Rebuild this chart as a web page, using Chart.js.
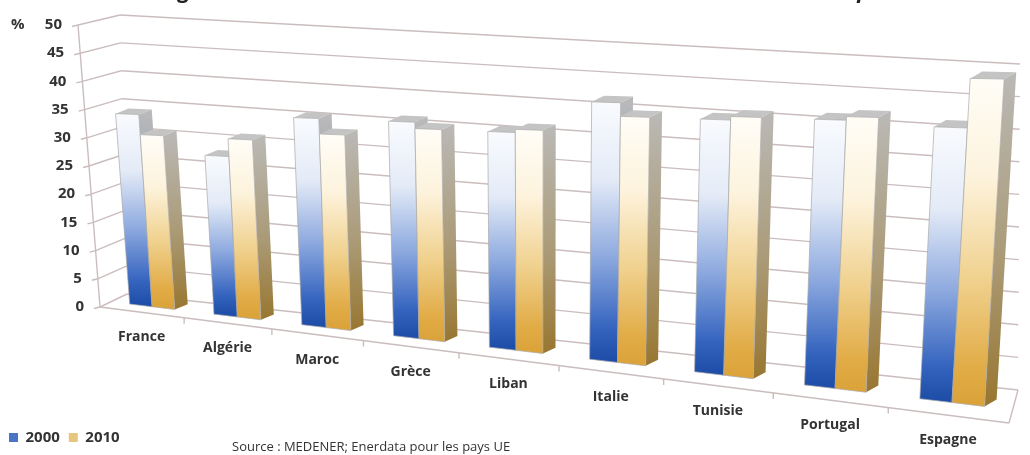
<!DOCTYPE html>
<html>
<head>
<meta charset="utf-8">
<script src="https://cdn.jsdelivr.net/npm/chart.js@4.4.0/dist/chart.umd.min.js"></script>
<style>
  html, body { margin: 0; padding: 0; background: #fff; }
  canvas { display: block; }
</style>
</head>
<body>
<canvas id="chart" width="1030" height="455"></canvas>
<script>
// data
const countries = ['France', 'Algérie', 'Maroc', 'Grèce', 'Liban', 'Italie', 'Tunisie', 'Portugal', 'Espagne'];
const values2000 = [33.5, 27, 34, 34, 33, 38, 36, 36.5, 36];
const values2010 = [30, 30, 31.5, 33, 33.5, 36, 36.5, 37, 42.5];
const valueTicks = [0, 5, 10, 15, 20, 25, 30, 35, 40, 45, 50];

// 3d box: front / back corners of the floor and the vertical step per unit
const FL0 = [100, 307], FR0 = [1009, 423];
const BL0 = [127, 294], BR0 = [1018, 390];
const FLV = [-0.44, -5.64], FRV = [0.49, -7.77];
const BLV = [-0.14, -5.58], BRV = [0.04, -6.52];
const barDepth = 0.4; // bars stand this far back on the floor
const gridColor = '#cbbdbd';
const textColor = '#333';
const font = '"Open Sans", "DejaVu Sans", sans-serif';

function lerp(a, b, t) { return a + (b - a) * t; }
function mix(p, q, t) { return [lerp(p[0], q[0], t), lerp(p[1], q[1], t)]; }
function add(p, q) { return [p[0] + q[0], p[1] + q[1]]; }

// position along the category axis (0..1) -> position along the receding floor edge
function warp(f) {
  const u = 9 * f;
  const x = (80.37 * u + 100) / (1 - 0.02045 * u);
  return (x - 100) / 909;
}

function wallPt(t, d, v) {
  const b = mix(mix(FL0, FR0, t), mix(BL0, BR0, t), d);
  const s = mix(mix(FLV, FRV, t), mix(BLV, BRV, t), d);
  return [b[0] + v * s[0], b[1] + v * s[1]];
}

function barPt(t, v) {
  const b = wallPt(t, barDepth, 0);
  const s = mix(FLV, FRV, t);
  return [b[0] + v * s[0], b[1] + v * s[1]];
}

function line(ctx, a, b) {
  ctx.beginPath();
  ctx.moveTo(a[0], a[1]);
  ctx.lineTo(b[0], b[1]);
  ctx.stroke();
}

function poly(ctx, pts, fill) {
  ctx.beginPath();
  ctx.moveTo(pts[0][0], pts[0][1]);
  for (let i = 1; i < pts.length; i++) ctx.lineTo(pts[i][0], pts[i][1]);
  ctx.closePath();
  ctx.fillStyle = fill;
  ctx.fill();
}

function grad(ctx, y0, y1, stops) {
  const g = ctx.createLinearGradient(0, y0, 0, y1);
  stops.forEach(s => g.addColorStop(s[0], s[1]));
  return g;
}

const styles = [
  {
    front: [[0, '#f9fbfe'], [0.3, '#e4ebf7'], [0.6, '#8eaadf'], [0.88, '#3564bf'], [1, '#1f4ea9']],
    side: [[0, '#b9b9bb'], [0.6, '#8791a8'], [1, '#34497c']]
  },
  {
    front: [[0, '#fffdf7'], [0.3, '#fdf3dd'], [0.62, '#f0d18e'], [0.9, '#e1ab45'], [1, '#dba33a']],
    side: [[0, '#bab8b4'], [0.55, '#aa9a76'], [1, '#987630']]
  }
];

function drawBar(ctx, tl, tr, v, st) {
  const a = barPt(tl, 0), b = barPt(tr, 0), c = barPt(tr, v), d = barPt(tl, v);
  const dep = mix([13, -5], [12, -7], (tl + tr) / 2);
  poly(ctx, [b, c, add(c, dep), add(b, dep)], grad(ctx, c[1], b[1], st.side));
  poly(ctx, [d, c, add(c, dep), add(d, dep)], '#c4c4c4');
  poly(ctx, [a, b, c, d], grad(ctx, d[1], a[1], st.front));
  ctx.strokeStyle = 'rgba(170,170,170,0.7)';
  ctx.lineWidth = 1;
  ctx.beginPath();
  [a, b, c, d].forEach((p, i) => i ? ctx.lineTo(p[0], p[1]) : ctx.moveTo(p[0], p[1]));
  ctx.closePath();
  ctx.stroke();
}

const perspective = {
  id: 'perspective',
  beforeDatasetDraw() {
    return false;
  },
  beforeDatasetsDraw(chart) {
    const ctx = chart.ctx;
    const n = countries.length;
    ctx.save();
    ctx.strokeStyle = gridColor;
    ctx.lineWidth = 1.4;
    valueTicks.forEach(v => {
      const p = wallPt(0, 0, v);
      line(ctx, add(p, [-6, 1.5]), p);
      line(ctx, p, wallPt(0, 1, v));
      line(ctx, wallPt(0, 1, v), wallPt(1, 1, v));
    });
    line(ctx, wallPt(0, 0, 0), wallPt(0, 0, 50));
    line(ctx, wallPt(0, 0, 0), wallPt(1, 0, 0));
    line(ctx, wallPt(1, 0, 0), wallPt(1, 1, 0));
    for (let i = 1; i < n; i++) {
      const p = wallPt(warp(i / n), 0, 0);
      line(ctx, p, add(p, [0, 6]));
    }
    ctx.restore();
  },
  afterDatasetsDraw(chart) {
    const ctx = chart.ctx;
    const area = chart.chartArea;
    const yScale = chart.scales.y;
    ctx.save();
    for (let i = 0; i < countries.length; i++) {
      chart.data.datasets.forEach((ds, k) => {
        const el = chart.getDatasetMeta(k).data[i];
        const p = el.getProps(['x', 'y', 'width'], true);
        const tl = warp((p.x - p.width / 2 - area.left) / area.width);
        const tr = warp((p.x + p.width / 2 - area.left) / area.width);
        drawBar(ctx, tl, tr, yScale.getValueForPixel(p.y), styles[k]);
      });
    }
    ctx.restore();
  },
  afterDraw(chart) {
    const ctx = chart.ctx;
    const area = chart.chartArea;
    const xScale = chart.scales.x;
    ctx.save();
    ctx.fillStyle = textColor;
    ctx.textBaseline = 'middle';

    // value axis
    ctx.font = 'bold 15px ' + font;
    ctx.textAlign = 'right';
    valueTicks.forEach(v => {
      const p = wallPt(0, 0, v);
      ctx.fillText(String(v), p[0] - 16, p[1]);
    });
    ctx.textAlign = 'left';
    ctx.fillText('%', 11, wallPt(0, 0, 50)[1]);

    // category axis
    ctx.font = 'bold 14px ' + font;
    ctx.textAlign = 'center';
    countries.forEach((c, i) => {
      const f = (xScale.getPixelForValue(i) - area.left) / area.width;
      const p = wallPt(warp(f), 0, 0);
      ctx.fillText(c, p[0], p[1] + 25);
    });

    // source line
    ctx.font = '13px ' + font;
    ctx.textAlign = 'left';
    ctx.fillText('Source : MEDENER; Enerdata pour les pays UE', 232, 447);

    // heading, sits above the top edge
    ctx.font = 'italic bold 22px ' + font;
    ctx.textBaseline = 'alphabetic';
    ctx.fillStyle = '#222';
    ctx.fillText('Figure 4 : Part du secteur résidentiel dans la consommation électrique', 160, -2);
    ctx.restore();
  }
};

new Chart(document.getElementById('chart'), {
  type: 'bar',
  data: {
    labels: countries,
    datasets: [
      { label: '2000', data: values2000, backgroundColor: '#4a74c6', borderWidth: 0 },
      { label: '2010', data: values2010, backgroundColor: '#e6c67e', borderWidth: 0 }
    ]
  },
  options: {
    responsive: false,
    animation: false,
    layout: { padding: 0 },
    datasets: { bar: { categoryPercentage: 0.54, barPercentage: 1 } },
    scales: {
      x: { display: false },
      y: { display: false, min: 0, max: 50, ticks: { stepSize: 5 } }
    },
    plugins: {
      legend: {
        position: 'bottom',
        align: 'start',
        labels: {
          boxWidth: 9,
          boxHeight: 9,
          padding: 9,
          color: textColor,
          font: { family: font, weight: 'bold', size: 15 }
        }
      },
      tooltip: { enabled: false }
    }
  },
  plugins: [perspective]
});
</script>
</body>
</html>
